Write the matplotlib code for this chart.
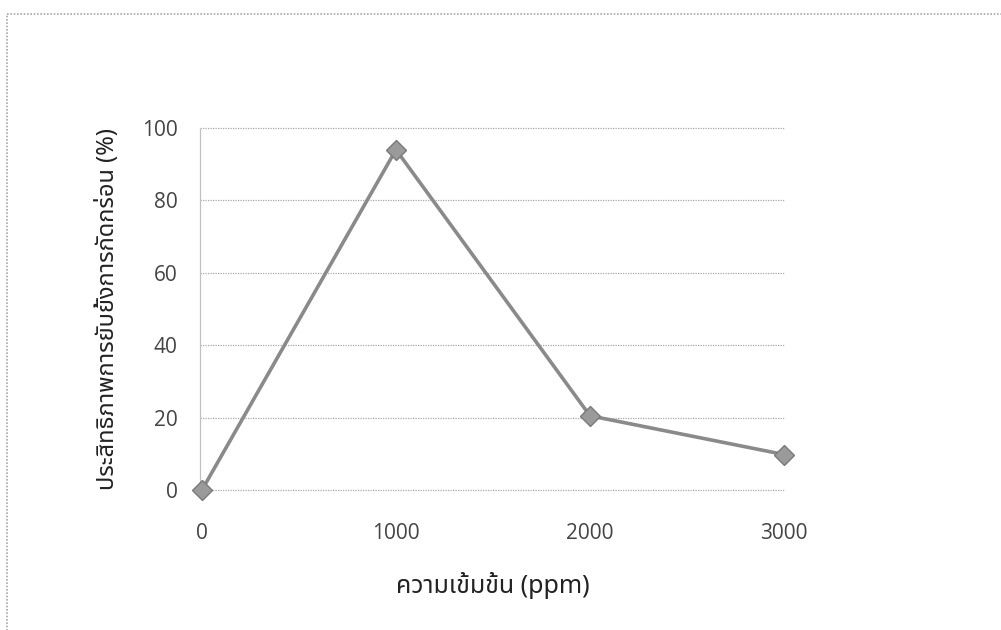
import matplotlib

matplotlib.use("Agg")
import matplotlib.pyplot as plt
from matplotlib import font_manager
from matplotlib.patches import Rectangle

# data
concentration = [0, 1000, 2000, 3000]
efficiency = [0, 94, 20.5, 9.8]
y_ticks = [0, 20, 40, 60, 80, 100]
x_ticks = [0, 1000, 2000, 3000]

x_label = "ความเข้มข้น (ppm)"
y_label = "ประสิทธิภาพการยับยั้งการกัดกร่อน (%)"


def pick_thai_family():
    names = sorted({f.name for f in font_manager.fontManager.ttflist})
    for wanted in ("Noto Sans Thai", "Noto Serif Thai", "Loma", "Garuda", "Norasi", "Kinnari", "Tlwg Typo"):
        if wanted in names:
            return wanted
    for n in names:
        if "thai" in n.lower():
            return n
    return None


thai = pick_thai_family()
label_family = [thai, "DejaVu Sans"] if thai else ["DejaVu Sans"]

fig = plt.figure(figsize=(10.01, 6.30), dpi=100)
fig.patch.set_facecolor("white")

# page border of the scanned figure
fig.patches.append(Rectangle((7 / 1001, -0.05), 1.1, 1 - 14 / 630 + 0.05,
                             transform=fig.transFigure, fill=False,
                             edgecolor="#a8a8a8", linewidth=1.2, linestyle=(0, (1, 1))))

ax = fig.add_axes([200 / 1001, 1 - 490 / 630, 585 / 1001, 362 / 630])
ax.plot(concentration, efficiency, color="#8a8a8a", linewidth=2.6,
        marker="D", markersize=10, markerfacecolor="#9a9a9a",
        markeredgecolor="#7a7a7a", markeredgewidth=1, clip_on=False, zorder=3)

ax.set_xlim(-10, 3005)
ax.set_ylim(0, 100)
ax.set_yticks(y_ticks)
ax.set_xticks(x_ticks)
ax.grid(axis="y", color="#a8a8a8", linewidth=0.9, linestyle=(0, (1, 1)))
for gl in ax.get_ygridlines():
    gl.set_clip_on(False)
ax.set_axisbelow(True)
for side in ("top", "right", "bottom"):
    ax.spines[side].set_visible(False)
ax.spines["left"].set_color("#c0c0c0")
ax.spines["left"].set_linewidth(0.9)
ax.spines["left"].set_linestyle((0, (1, 1)))
ax.tick_params(length=0, labelsize=15, labelcolor="#444444")
ax.tick_params(axis="x", pad=24)
ax.tick_params(axis="y", pad=16)
for lab in ax.get_xticklabels() + ax.get_yticklabels():
    lab.set_family(["Open Sans", "DejaVu Sans"])

ax.set_xlabel(x_label, fontsize=18, fontweight="bold", family=label_family, labelpad=20, color="#222222")
ax.set_ylabel(y_label, fontsize=17, fontweight="bold", family=label_family, labelpad=16, color="#222222")

fig.savefig("out.png", dpi=100)
